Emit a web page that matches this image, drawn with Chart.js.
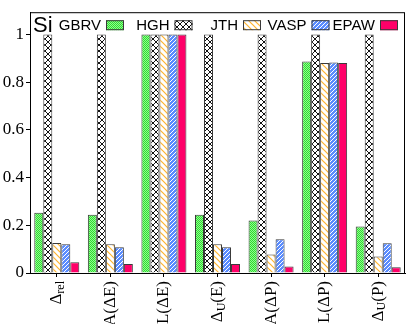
<!DOCTYPE html>
<html>
<head>
<meta charset="utf-8">
<script src="https://cdn.jsdelivr.net/npm/chart.js@4"></script>
<style>
	html, body { margin: 0; padding: 0; background: #fff; }
	#wrap { width: 407px; height: 324px; }
</style>
</head>
<body>
<div id="wrap"><canvas id="graph_si"></canvas></div>
<script>
var categories = ['Δ_rel', 'A(ΔE)', 'L(ΔE)', 'Δ_U(E)', 'A(ΔP)', 'L(ΔP)', 'Δ_U(P)'];
var series_names = ['GBRV', 'HGH', 'JTH', 'VASP', 'EPAW'];
var gbrv = [0.252, 0.244, 1.0, 0.244, 0.220, 0.886, 0.195];
var hgh  = [1.0, 1.0, 1.0, 1.0, 1.0, 1.0, 1.0];
var jth  = [0.126, 0.120, 1.0, 0.120, 0.078, 0.880, 0.069];
var vasp = [0.120, 0.108, 1.0, 0.108, 0.141, 0.882, 0.125];
var epaw = [0.045, 0.038, 1.0, 0.038, 0.027, 0.880, 0.024];
var y_ticks = [0, 0.2, 0.4, 0.6, 0.8, 1];
var panel_title = 'Si';

var canvas = document.getElementById('graph_si');
var ctx = canvas.getContext('2d');

function makePattern(size, draw){
	var c = document.createElement('canvas');
	c.width = size; c.height = size;
	var g = c.getContext('2d');
	draw(g, size);
	return ctx.createPattern(c, 'repeat');
}

var pat_gbrv = makePattern(2, function(g){
	g.fillStyle = '#8cff8c'; g.fillRect(0, 0, 2, 2);
	g.fillStyle = '#33d633'; g.fillRect(0, 0, 1, 1); g.fillRect(1, 1, 1, 1);
});
var pat_hgh = makePattern(6, function(g, s){
	g.fillStyle = '#fff'; g.fillRect(0, 0, s, s);
	g.strokeStyle = '#111'; g.lineWidth = 1;
	g.beginPath();
	g.moveTo(0, 0); g.lineTo(s, s);
	g.moveTo(s, 0); g.lineTo(0, s);
	g.stroke();
});
var pat_jth = makePattern(6, function(g, s){
	g.fillStyle = '#fff'; g.fillRect(0, 0, s, s);
	g.strokeStyle = '#ffb42e'; g.lineWidth = 1.2;
	g.beginPath();
	g.moveTo(-1, -1); g.lineTo(s + 1, s + 1);
	g.moveTo(-1, s - 1); g.lineTo(1, s + 1);
	g.moveTo(s - 1, -1); g.lineTo(s + 1, 1);
	g.stroke();
});
var pat_vasp = makePattern(4, function(g, s){
	g.fillStyle = '#5a8cff'; g.fillRect(0, 0, s, s);
	g.strokeStyle = '#ffffff'; g.lineWidth = 1;
	g.beginPath();
	g.moveTo(-1, s + 1); g.lineTo(s + 1, -1);
	g.moveTo(-1, 1); g.lineTo(1, -1);
	g.moveTo(s - 1, s + 1); g.lineTo(s + 1, s - 1);
	g.stroke();
});

var fills = [pat_gbrv, pat_hgh, pat_jth, pat_vasp, '#ff0068'];
var values = [gbrv, hgh, jth, vasp, epaw];

var datasets = series_names.map(function(name, i){
	return {
		label: name,
		data: values[i],
		backgroundColor: fills[i],
		borderColor: '#3a3a3a',
		borderWidth: 1,
		borderSkipped: 'bottom'
	};
});

// split 'Δ_rel' style labels into normal / subscript pieces
function parseLabel(s){
	var parts = [];
	var re = /_([A-Za-z]+)/g, last = 0, m;
	while((m = re.exec(s)) !== null){
		if(m.index > last) parts.push({t: s.slice(last, m.index), sub: false});
		parts.push({t: m[1], sub: true});
		last = re.lastIndex;
	}
	if(last < s.length) parts.push({t: s.slice(last), sub: false});
	return parts;
}

var decorPlugin = {
	id: 'decor',
	afterDraw: function(chart){
		var c = chart.ctx, area = chart.chartArea;
		c.save();
		// frame
		c.strokeStyle = '#000';
		c.lineWidth = 1;
		c.strokeRect(area.left + 0.5, area.top + 0.5, area.right - area.left - 1, area.bottom - area.top);

		// rotated category labels with subscripts
		var xs = chart.scales.x;
		var mainFont = '17px "Liberation Serif", "DejaVu Serif", serif';
		var subFont = '12px "Liberation Serif", "DejaVu Serif", serif';
		c.fillStyle = '#000';
		c.textBaseline = 'middle';
		c.textAlign = 'left';
		chart.data.labels.forEach(function(lab, i){
			var parts = parseLabel(lab);
			var total = 0;
			parts.forEach(function(p){
				c.font = p.sub ? subFont : mainFont;
				p.w = c.measureText(p.t).width;
				total += p.w;
			});
			c.save();
			c.translate(xs.getPixelForTick(i), area.bottom + 8);
			c.rotate(-Math.PI / 2);
			var x = -total;
			parts.forEach(function(p){
				c.font = p.sub ? subFont : mainFont;
				c.fillText(p.t, x, p.sub ? 4 : 0);
				x += p.w;
			});
			c.restore();
		});

		// panel title
		c.font = '22px "Liberation Sans", Arial, sans-serif';
		c.textBaseline = 'middle';
		c.textAlign = 'left';
		c.fillText(panel_title, area.left + 3, area.top + 14);

		// legend: text first, then box
		c.font = '15px "Liberation Sans", Arial, sans-serif';
		chart.data.datasets.forEach(function(ds, i){
			var bx = area.left + 76 + i * 68.5;
			var by = area.top + 8;
			c.textAlign = 'right';
			c.fillStyle = '#000';
			c.fillText(ds.label, bx - 5, by + 5.5);
			c.fillStyle = ds.backgroundColor;
			c.fillRect(bx, by, 18, 10);
			c.strokeStyle = '#3a3a3a';
			c.lineWidth = 1;
			c.strokeRect(bx + 0.5, by + 0.5, 17, 9);
		});
		c.restore();
	}
};

var graph_si_config = {
	type: 'bar',
	data: {
		labels: categories,
		datasets: datasets
	},
	options: {
		animation: false,
		responsive: true,
		maintainAspectRatio: false,
		layout: {
			padding: { top: 2, right: 2, left: 0, bottom: 0 }
		},
		datasets: {
			bar: {
				categoryPercentage: 0.84,
				barPercentage: 1.0
			}
		},
		scales: {
			x: {
				grid: {
					offset: false,
					drawOnChartArea: false,
					drawTicks: true,
					tickLength: 4,
					color: '#000'
				},
				border: { color: '#000', width: 1 },
				ticks: { display: false },
				afterFit: function(scale){ scale.height = 51; }
			},
			y: {
				min: 0,
				max: 1.093,
				afterBuildTicks: function(scale){
					scale.ticks = y_ticks.map(function(v){ return {value: v}; });
				},
				grid: {
					drawOnChartArea: false,
					drawTicks: true,
					tickLength: 4,
					color: '#000'
				},
				border: { color: '#000', width: 1 },
				ticks: {
					font: { family: '"Liberation Serif", "DejaVu Serif", serif', size: 17 },
					color: '#000',
					padding: 2,
					callback: function(value){ return String(Math.round(value * 10) / 10); }
				},
				afterFit: function(scale){ scale.width = 30; }
			}
		},
		plugins: {
			legend: { display: false },
			tooltip: { enabled: false }
		}
	},
	plugins: [decorPlugin]
};

document.addEventListener("DOMContentLoaded", function(){
	new Chart(ctx, graph_si_config);
});
</script>
</body>
</html>
